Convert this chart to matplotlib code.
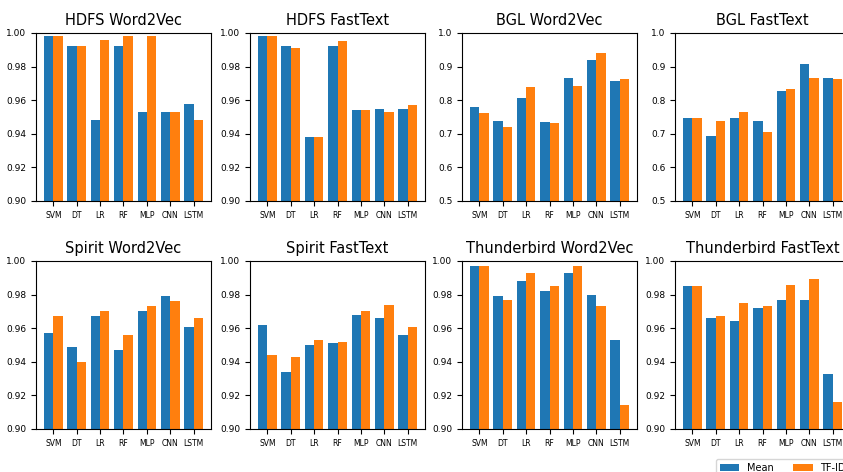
import numpy as np
import matplotlib.pyplot as plt

models = ['SVM', 'DT', 'LR', 'RF', 'MLP', 'CNN', 'LSTM']

titles = ['HDFS Word2Vec', 'HDFS FastText', 'BGL Word2Vec', 'BGL FastText',
          'Spirit Word2Vec', 'Spirit FastText', 'Thunderbird Word2Vec', 'Thunderbird FastText']

hdfs_w2v_mean = [0.998, 0.992, 0.948, 0.992, 0.953, 0.953, 0.958]
hdfs_w2v_tfidf = [0.998, 0.992, 0.996, 0.998, 0.998, 0.953, 0.948]
hdfs_ft_mean = [0.998, 0.992, 0.938, 0.992, 0.954, 0.955, 0.955]
hdfs_ft_tfidf = [0.998, 0.991, 0.938, 0.995, 0.954, 0.953, 0.957]
bgl_w2v_mean = [0.779, 0.739, 0.808, 0.734, 0.866, 0.920, 0.857]
bgl_w2v_tfidf = [0.761, 0.721, 0.838, 0.733, 0.841, 0.939, 0.864]
bgl_ft_mean = [0.746, 0.693, 0.746, 0.738, 0.826, 0.908, 0.866]
bgl_ft_tfidf = [0.748, 0.738, 0.764, 0.704, 0.833, 0.866, 0.863]
spirit_w2v_mean = [0.957, 0.949, 0.967, 0.947, 0.970, 0.979, 0.961]
spirit_w2v_tfidf = [0.967, 0.940, 0.970, 0.956, 0.973, 0.976, 0.966]
spirit_ft_mean = [0.962, 0.934, 0.950, 0.951, 0.968, 0.966, 0.956]
spirit_ft_tfidf = [0.944, 0.943, 0.953, 0.952, 0.970, 0.974, 0.961]
tb_w2v_mean = [0.997, 0.979, 0.988, 0.982, 0.993, 0.980, 0.953]
tb_w2v_tfidf = [0.997, 0.977, 0.993, 0.985, 0.997, 0.973, 0.914]
tb_ft_mean = [0.985, 0.966, 0.964, 0.972, 0.977, 0.977, 0.933]
tb_ft_tfidf = [0.985, 0.967, 0.975, 0.973, 0.986, 0.989, 0.916]

means = [hdfs_w2v_mean, hdfs_ft_mean, bgl_w2v_mean, bgl_ft_mean,
         spirit_w2v_mean, spirit_ft_mean, tb_w2v_mean, tb_ft_mean]
tfidfs = [hdfs_w2v_tfidf, hdfs_ft_tfidf, bgl_w2v_tfidf, bgl_ft_tfidf,
          spirit_w2v_tfidf, spirit_ft_tfidf, tb_w2v_tfidf, tb_ft_tfidf]
ylims = [(0.9, 1.0), (0.9, 1.0), (0.5, 1.0), (0.5, 1.0),
         (0.9, 1.0), (0.9, 1.0), (0.9, 1.0), (0.9, 1.0)]

W, H = 843, 472
fig = plt.figure(figsize=(W / 100, H / 100), dpi=100)

lefts = [36, 250, 462, 675]
tops = [33, 261]
ax_w, ax_h = 175, 168

ind = np.arange(len(models))
width = 0.4

for k in range(8):
    r, c = divmod(k, 4)
    ax = fig.add_axes([lefts[c] / W, 1 - (tops[r] + ax_h) / H, ax_w / W, ax_h / H])
    b1 = ax.bar(ind - width / 2, means[k], width, color='#1f77b4', label='Mean')
    b2 = ax.bar(ind + width / 2, tfidfs[k], width, color='#ff7f0e', label='TF-IDF')
    ax.set_ylim(*ylims[k])
    ax.set_xticks(ind)
    ax.set_xticklabels(models, fontsize=5.5)
    ax.tick_params(axis='y', labelsize=6.5)
    ax.set_title(titles[k], fontsize=10.5)

fig.legend((b1, b2), ('Mean', 'TF-IDF'), loc='upper left', ncol=2, fontsize=7,
           bbox_to_anchor=(716 / W, 1 - 459 / H), borderaxespad=0)

fig.savefig('out.png', dpi=100)
